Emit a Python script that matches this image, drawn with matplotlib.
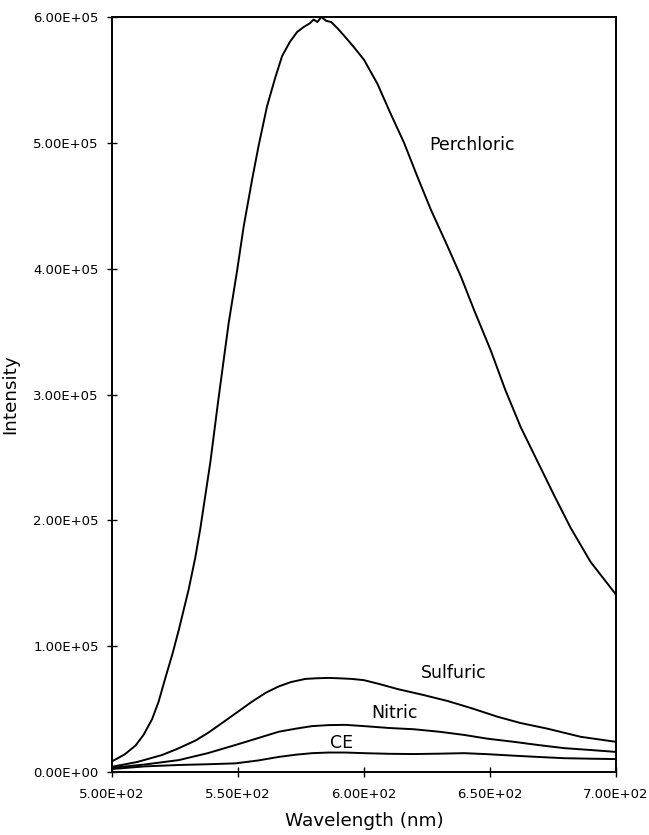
import matplotlib.pyplot as plt
from matplotlib.ticker import FuncFormatter, MultipleLocator

# values
perchloric_nm = [500, 505.0, 509.3, 512.5, 515.9, 518.5, 521.2, 524.0, 526.5, 530.4, 533.0,
                 535.0, 539.0, 542.2, 546.3, 549.6, 552.2, 555.6, 558.2, 561.5, 564.8, 567.5,
                 570.5, 573.4, 576.0, 578.5, 580.0, 581.5, 583.0, 585.0, 587.0, 589.5, 592.6,
                 596.0, 600.0, 605.3, 610.6, 615.9, 621.2, 626.5, 633.1, 638.4, 643.7, 650.3,
                 656.0, 662.2, 668.8, 675.4, 682.0, 689.9, 700.0]
perchloric = [8.5e3, 1.4e4, 2.1e4, 2.95e4, 4.2e4, 5.6e4, 7.5e4, 9.4e4, 1.13e5, 1.45e5, 1.70e5,
              1.93e5, 2.46e5, 2.96e5, 3.57e5, 3.98e5, 4.33e5, 4.71e5, 4.98e5, 5.29e5, 5.52e5, 5.69e5,
              5.80e5, 5.88e5, 5.92e5, 5.95e5, 5.98e5, 5.96e5, 6.00e5, 5.97e5, 5.96e5, 5.91e5, 5.84e5,
              5.76e5, 5.66e5, 5.47e5, 5.23e5, 5.00e5, 4.73e5, 4.47e5, 4.18e5, 3.94e5, 3.67e5, 3.35e5,
              3.04e5, 2.74e5, 2.47e5, 2.20e5, 1.94e5, 1.67e5, 1.41e5]

sulfuric_nm = [500, 510, 519.8, 526, 533.1, 538, 543.7, 550, 555.6, 561, 566.1, 571, 576.7,
               581, 586, 590, 595.2, 600, 606, 613.2, 623, 633.1, 643, 652.9, 662, 672.7,
               686, 693, 700]
sulfuric = [4.2e3, 8e3, 1.35e4, 1.85e4, 2.5e4, 3.1e4, 3.9e4, 4.8e4, 5.6e4, 6.3e4, 6.8e4, 7.15e4,
            7.4e4, 7.45e4, 7.48e4, 7.45e4, 7.4e4, 7.3e4, 7.0e4, 6.6e4, 6.15e4, 5.65e4, 5.05e4,
            4.4e4, 3.9e4, 3.45e4, 2.8e4, 2.6e4, 2.4e4]

nitric_nm = [500, 513, 526.5, 538, 549, 558, 566.1, 573, 579.4, 586, 592.6, 600, 610, 619.8,
             630, 639.7, 649, 659.5, 669, 679.4, 690, 700]
nitric = [3.4e3, 6e3, 9.5e3, 1.5e4, 2.15e4, 2.7e4, 3.2e4, 3.45e4, 3.65e4, 3.73e4, 3.75e4,
          3.65e4, 3.5e4, 3.4e4, 3.2e4, 2.95e4, 2.65e4, 2.4e4, 2.15e4, 1.9e4, 1.75e4, 1.6e4]

ce_nm = [500, 513, 526.5, 538, 549, 558, 566.1, 573, 579.4, 586, 592.6, 600, 610, 619.8,
         630, 639.7, 649, 659.5, 669, 679.4, 690, 700]
ce = [2.4e3, 4.5e3, 5.6e3, 6.2e3, 6.9e3, 9.2e3, 1.2e4, 1.38e4, 1.5e4, 1.55e4, 1.55e4,
      1.5e4, 1.45e4, 1.43e4, 1.46e4, 1.5e4, 1.42e4, 1.3e4, 1.2e4, 1.1e4, 1.06e4, 1.03e4]

labels = ["Perchloric", "Sulfuric", "Nitric", "CE"]
label_pos = [(625.8, 4.98e5), (622.6, 7.87e4), (602.8, 4.69e4), (586.5, 2.3e4)]


def sci(v, pos):
    return f"{v:.2E}"


fig = plt.figure(figsize=(6.49, 8.35), dpi=100)
ax = fig.add_axes([0.1726, 0.0754, 0.7766, 0.9042])

for xs, ys in [(perchloric_nm, perchloric), (sulfuric_nm, sulfuric),
               (nitric_nm, nitric), (ce_nm, ce)]:
    ax.plot(xs, ys, color="black", lw=1.4)

for name, (x, y) in zip(labels, label_pos):
    ax.text(x, y, name, fontsize=12.5, ha="left", va="center")

ax.set_xlim(500, 700)
ax.set_ylim(0, 6e5)
ax.xaxis.set_major_locator(MultipleLocator(50))
ax.yaxis.set_major_locator(MultipleLocator(1e5))
ax.xaxis.set_major_formatter(FuncFormatter(sci))
ax.yaxis.set_major_formatter(FuncFormatter(sci))
ax.tick_params(direction="inout", length=7, width=1, labelsize=9.5, pad=6)
ax.tick_params(axis="x", pad=8)
for s in ax.spines.values():
    s.set_linewidth(1.4)

ax.set_xlabel("Wavelength (nm)", fontsize=13.2, labelpad=8)
ax.set_ylabel("Intensity", fontsize=13.2, labelpad=10)

fig.savefig("out.png", dpi=100)
